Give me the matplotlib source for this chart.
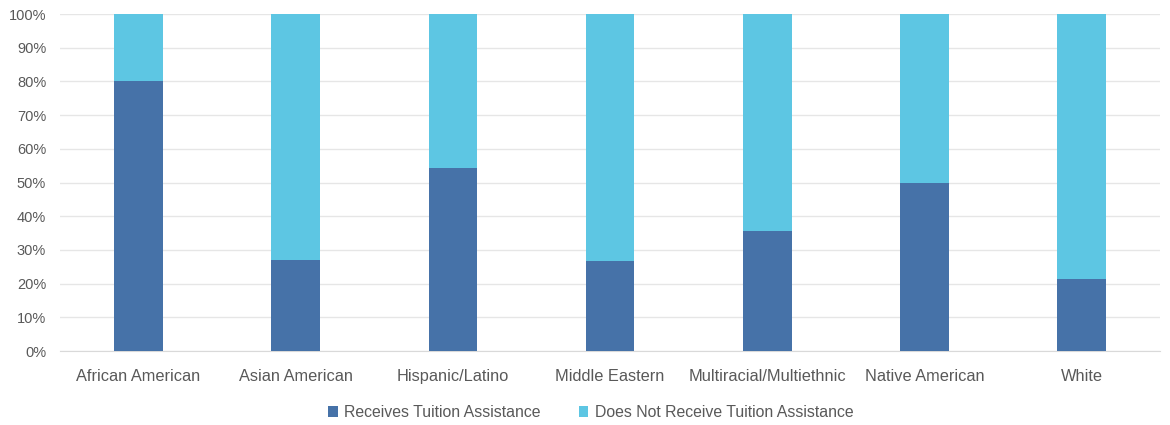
import numpy as np
import matplotlib.pyplot as plt
from matplotlib.ticker import PercentFormatter

groups = ['African American', 'Asian American', 'Hispanic/Latino', 'Middle Eastern',
          'Multiracial/Multiethnic', 'Native American', 'White']
receives = [80.0, 27.0, 54.3, 26.7, 35.6, 50.0, 21.4]
not_receives = [100 - v for v in receives]

dark = '#4672A8'
light = '#5DC6E3'
grey = '#595959'

plt.rcParams['font.family'] = ['Liberation Sans', 'DejaVu Sans']

fig = plt.figure(figsize=(11.7, 4.25), dpi=100)
ax = fig.add_axes([0.0513, 0.174, 0.9402, 0.793])

x = np.arange(len(groups))
ax.bar(x, receives, width=0.31, color=dark, label='Receives Tuition Assistance', zorder=3)
ax.bar(x, not_receives, width=0.31, bottom=receives, color=light,
       label='Does Not Receive Tuition Assistance', zorder=3)

ax.set_xlim(-0.5, len(groups) - 0.5)
ax.set_ylim(0, 100)
ax.set_yticks(np.arange(0, 101, 10))
ax.yaxis.set_major_formatter(PercentFormatter(decimals=0))
ax.set_xticks(x)
ax.set_xticklabels(groups)
ax.grid(axis='y', color='#E6E6E6', linewidth=1, zorder=0)
for s in ['top', 'right', 'left']:
    ax.spines[s].set_visible(False)
ax.spines['bottom'].set_color('#D9D9D9')
ax.tick_params(axis='both', length=0, colors=grey)
ax.tick_params(axis='x', pad=13, labelsize=11.8)
ax.tick_params(axis='y', pad=10, labelsize=10.5)

fig.legend(loc='center', bbox_to_anchor=(0.505, 0.03), ncol=2, frameon=False,
           fontsize=11.4, labelcolor=grey, handlelength=0.6, handleheight=0.7,
           handletextpad=0.4, columnspacing=2.4)

fig.savefig('out.png', dpi=100)
